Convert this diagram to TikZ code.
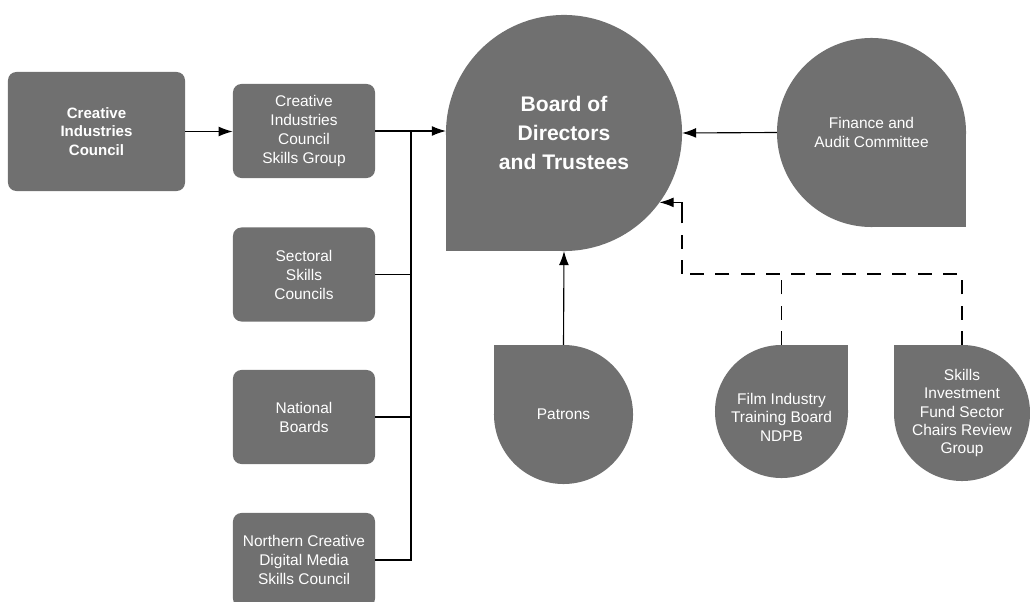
\documentclass[tikz,border=0pt]{standalone}
\usepackage{fontspec}
\setmainfont{Liberation Sans}
\usetikzlibrary{arrows.meta,backgrounds}
\definecolor{leafgray}{RGB}{112,112,112}
\tikzset{
  unitbox/.style={draw=none, fill=leafgray, text=white, align=center, rounded corners=6pt,
    minimum width=3.55cm, minimum height=2.35cm, inner sep=2pt, font=\fontsize{11}{13.5}\selectfont},
  leaf/.style={circle, fill=leafgray, text=white, align=center, minimum size=#1,
    inner sep=0pt, outer sep=0pt, font=\fontsize{11}{13}\selectfont},
  wire/.style={line width=0.8pt},
  feed/.style={wire, -{Latex[length=10pt,width=7pt]}},
  dotted line/.style={dash pattern=on 10pt off 8pt},
}
\begin{document}
\begin{tikzpicture}[x=0.025cm, y=-0.025cm]
  \useasboundingbox (0,0) rectangle (1030,602);
  \clip (0,0) rectangle (1030,602);
  % Linker Spalte
  \node[unitbox, font=\bfseries\fontsize{10.7}{13}\selectfont, minimum width=4.425cm, minimum height=2.975cm]
    (cic) at (96.5,131.5) {Creative\\Industries\\Council};
  \node[unitbox] (cicsg) at (304,131) {Creative\\Industries\\Council\\Skills Group};
  \node[unitbox] (sect) at (304,274.5) {Sectoral\\Skills\\Councils};
  \node[unitbox] (natl) at (304,417) {National\\Boards};
  \node[unitbox] (north) at (304,560) {Northern Creative\\Digital Media\\Skills Council};
  % Tropfen
  \node[leaf=5.9cm, font=\bfseries\fontsize{15}{20.5}\selectfont] (board) at (564,133) {Board of\\Directors\\and Trustees};
  \node[leaf=4.725cm] (fin) at (871.5,132.5) {Finance and\\Audit Committee};
  \node[leaf=3.475cm] (pat) at (563.5,414.5) {Patrons};
  \node[leaf=3.325cm] (film) at (781.5,411.5) {\\[3pt]Film Industry\\Training Board\\NDPB};
  \node[leaf=3.4cm] (sifs) at (962,413) {Skills\\Investment\\Fund Sector\\Chairs Review\\Group};
  % eckige Ecken
  \begin{scope}[on background layer]
    \fill[leafgray] (board.center) rectangle (board.west |- board.south);
    \fill[leafgray] (fin.center) rectangle (fin.east |- fin.south);
    \fill[leafgray] (pat.center) rectangle (pat.west |- pat.north);
    \fill[leafgray] (film.center) rectangle (film.east |- film.north);
    \fill[leafgray] (sifs.center) rectangle (sifs.west |- sifs.north);
  \end{scope}
  % Verbindungen
  \coordinate (bus) at (411,131);
  \draw[feed] (cic.east) -- (cic.east -| cicsg.west);
  \draw[feed] (cicsg.east) -- (cicsg.east -| board.west);
  \draw[wire] (north.east) -| (bus);
  \draw[wire] (sect.east) -- (sect.east -| bus);
  \draw[wire] (natl.east) -- (natl.east -| bus);
  \draw[feed] (fin.west) -- (board.east);
  \draw[feed] (pat.north) -- (board.south);
  % gestrichelt
  \coordinate (dj) at (682,274);
  \draw[wire, dotted line] (sifs.north) |- (dj);
  \draw[wire, dotted line] (film.north) -- (film.north |- dj);
  \draw[wire, dotted line] (dj) -- (dj |- board.-36.5);
  \draw[feed] (dj |- board.-36.5) ++(0,20) |- (board.-36.5);
\end{tikzpicture}
\end{document}
